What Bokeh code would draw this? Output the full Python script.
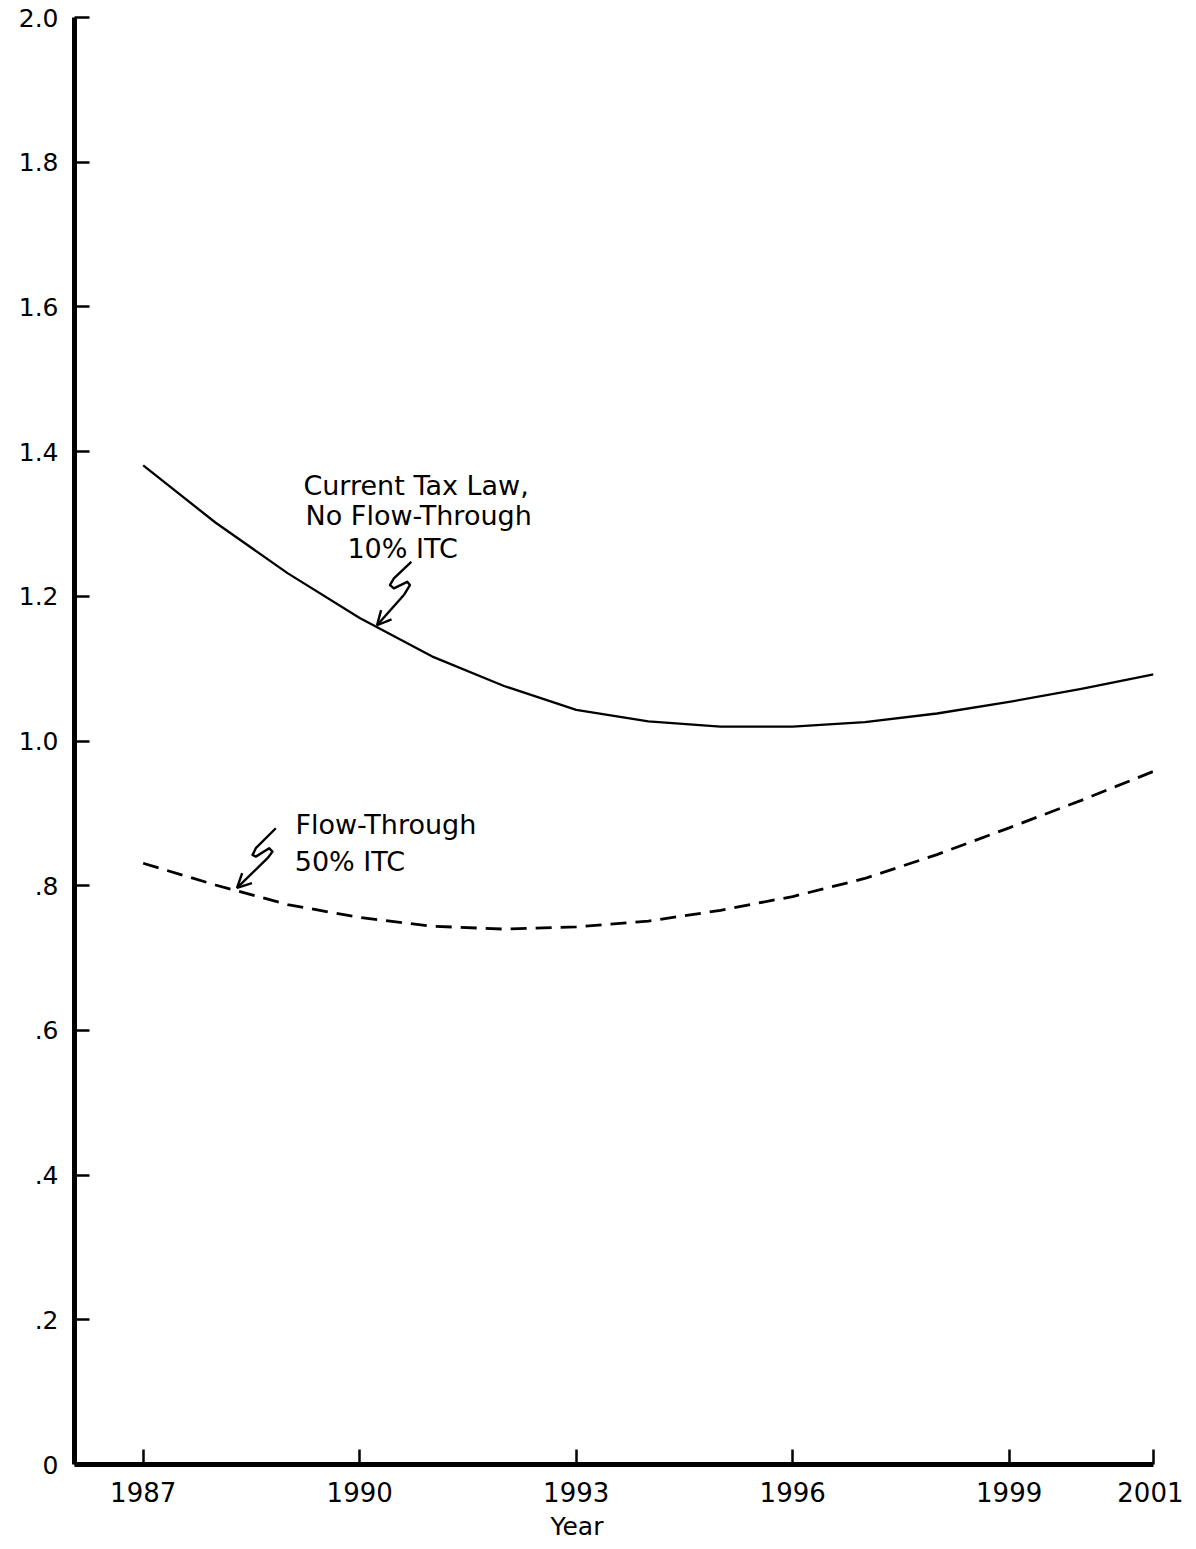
from bokeh.plotting import figure
from bokeh.models import ColumnDataSource, FixedTicker, Range1d, Arrow, OpenHead, Title
from bokeh.core.properties import value
from bokeh.embed import file_html
from bokeh.resources import INLINE

# ---- data ----
years = [1987, 1988, 1989, 1990, 1991, 1992, 1993, 1994, 1995, 1996, 1997, 1998, 1999, 2000, 2001]
current_tax_law = [1.381, 1.302, 1.232, 1.170, 1.117, 1.076, 1.043, 1.027, 1.020, 1.020, 1.026, 1.038, 1.054, 1.072, 1.092]
flow_through = [0.831, 0.801, 0.774, 0.756, 0.744, 0.740, 0.743, 0.751, 0.766, 0.785, 0.810, 0.843, 0.880, 0.918, 0.958]

x_tick_values = [1987, 1990, 1993, 1996, 1999, 2001]
x_tick_labels = ["1987", "1990", "1993", "1996", "1999", "2001"]
y_tick_values = [0, 0.2, 0.4, 0.6, 0.8, 1.0, 1.2, 1.4, 1.6, 1.8, 2.0]
y_tick_labels = ["0", ".2", ".4", ".6", ".8", "1.0", "1.2", "1.4", "1.6", "1.8", "2.0"]
x_title = "Year"

# annotation texts (left x, baseline y in data units)
note_text = ["Current Tax Law,", "No Flow-Through", "10% ITC", "Flow-Through", "50% ITC"]
note_x = [1989.22, 1989.25, 1989.83, 1989.11, 1989.10]
note_y = [1.3526, 1.3122, 1.2661, 0.8840, 0.8333]

# squiggle leaders (data units); last point is where the arrow starts
squiggle1_x = [1990.715, 1990.474, 1990.419, 1990.474, 1990.659, 1990.696, 1990.612]
squiggle1_y = [1.2477, 1.2247, 1.2155, 1.2109, 1.2200, 1.2155, 1.2017]
tip1 = (1990.24, 1.160)
squiggle2_x = [1988.838, 1988.561, 1988.515, 1988.561, 1988.746, 1988.792, 1988.723]
squiggle2_y = [0.8794, 0.8518, 0.8425, 0.8402, 0.8518, 0.8471, 0.8380]
tip2 = (1988.30, 0.797)

FONT = "DejaVu Sans"

p = figure(width=1183, height=1545, output_backend="svg", toolbar_location=None,
           x_range=Range1d(1986.048, 2001.0), y_range=Range1d(0, 2.0),
           min_border_left=74, min_border_top=17, min_border_bottom=80, min_border_right=30)
p.outline_line_color = None
p.grid.visible = False
p.background_fill_color = "white"
p.border_fill_color = "white"

# axes
for ax in (p.xaxis[0], p.yaxis[0]):
    ax.axis_line_width = 5
    ax.axis_line_color = "black"
    ax.major_tick_in = 15
    ax.major_tick_out = 0
    ax.major_tick_line_width = 2.5
    ax.major_tick_line_color = "black"
    ax.minor_tick_line_color = None
    ax.major_label_text_font = FONT
    ax.major_label_text_color = "black"

p.xaxis.ticker = FixedTicker(ticks=x_tick_values)
p.xaxis.major_label_overrides = dict(zip(x_tick_values, x_tick_labels))
p.xaxis.major_label_text_font_size = "26px"
p.xaxis.major_label_standoff = 17

p.yaxis.ticker = FixedTicker(ticks=y_tick_values)
p.yaxis.major_label_overrides = dict(zip(y_tick_values, y_tick_labels))
p.yaxis.major_label_text_font_size = "25px"
p.yaxis.major_label_standoff = 16

# x-axis title (sits under 1993 in the original, not centred on the frame)
p.add_layout(Title(text=x_title, align="left", offset=476, text_font=FONT, text_font_size="25px",
                   text_font_style="normal", text_color="black", standoff=10), "below")

# series
p.line(years, current_tax_law, line_color="black", line_width=2.3, line_join="round")
p.line(years, flow_through, line_color="black", line_width=2.8, line_dash="16 9")

# annotations
src = ColumnDataSource(dict(x=note_x, y=note_y, text=note_text))
p.text(x="x", y="y", text="text", source=src, text_font=value(FONT), text_font_size="27px",
       text_align="left", text_baseline="alphabetic", text_color="black")

p.line(squiggle1_x, squiggle1_y, line_color="black", line_width=2.4, line_join="round")
p.line(squiggle2_x, squiggle2_y, line_color="black", line_width=2.4, line_join="round")
p.add_layout(Arrow(end=OpenHead(size=14, line_width=2.4, line_color="black"),
                   x_start=squiggle1_x[-1], y_start=squiggle1_y[-1], x_end=tip1[0], y_end=tip1[1],
                   line_width=2.4, line_color="black"))
p.add_layout(Arrow(end=OpenHead(size=14, line_width=2.4, line_color="black"),
                   x_start=squiggle2_x[-1], y_start=squiggle2_y[-1], x_end=tip2[0], y_end=tip2[1],
                   line_width=2.4, line_color="black"))

open("out.html", "w").write(file_html(p, INLINE))
